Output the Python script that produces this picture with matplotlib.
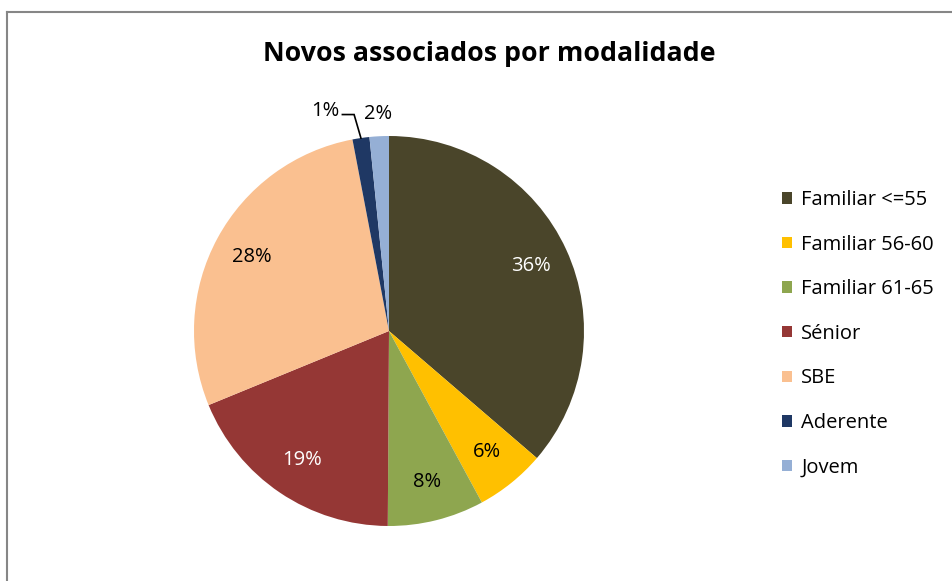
import numpy as np
import matplotlib
matplotlib.use("Agg")
from matplotlib import pyplot as plt
from matplotlib.lines import Line2D
from matplotlib.patches import Patch

plt.rcParams['font.family'] = ['Open Sans', 'DejaVu Sans']

# data (share of new members per category, %)
categories = ['Familiar <=55', 'Familiar 56-60', 'Familiar 61-65', 'Sénior',
              'SBE', 'Aderente', 'Jovem']
values = [36.3, 5.8, 8.0, 18.7, 28.2, 1.4, 1.6]
colors = ['#4A452A', '#FFC000', '#8EA64F', '#953735',
          '#FAC090', '#1F3864', '#95AFD5']
label_colors = ['white', 'black', 'black', 'white', 'black', 'black', 'black']

W, H = 953, 581
fig = plt.figure(figsize=(W / 100, H / 100), dpi=100)

# pie axes: centre (389, 331) px, radius 195 px
cx, cy, r = 389, 331, 195
ax = fig.add_axes([(cx - r) / W, (H - cy - r) / H, 2 * r / W, 2 * r / H])

wedges, texts, autotexts = ax.pie(values, colors=colors, startangle=90,
                                  counterclock=False, autopct='%.0f%%',
                                  pctdistance=0.8,
                                  wedgeprops=dict(linewidth=0),
                                  textprops=dict(fontsize=14.5))
ax.set_xlim(-1, 1)
ax.set_ylim(-1, 1)
ax.set_aspect('equal')

for t, c in zip(autotexts, label_colors):
    t.set_color(c)

# the two small slices get their labels outside the pie
def mid_angle(w):
    return np.deg2rad((w.theta1 + w.theta2) / 2)

# Aderente: label left, with a leader line
a = mid_angle(wedges[5])
ex, ey = np.cos(a), np.sin(a)
ly = 1.11
ax.plot([ex, ex - 0.035, ex - 0.095], [ey, ly, ly], color='black', lw=1.2,
        clip_on=False, solid_joinstyle='miter')
autotexts[5].set_position((ex - 0.11, ly + 0.02))
autotexts[5].set_ha('right')
autotexts[5].set_va('center')

# Jovem: label just above the slice
a = mid_angle(wedges[6])
autotexts[6].set_position((1.115 * np.cos(a), 1.115 * np.sin(a)))
autotexts[6].set_ha('center')
autotexts[6].set_va('center')

fig.text(489 / W, 1 - 54 / H, 'Novos associados por modalidade',
         ha='center', va='center', fontsize=19.3, fontweight='bold')

handles = [Patch(facecolor=c, edgecolor='none') for c in colors]
fig.legend(handles, categories, loc='upper left',
           bbox_to_anchor=(764 / W, 1 - 172 / H), frameon=False,
           fontsize=14.5, handlelength=0.5, handleheight=0.5,
           handletextpad=0.45, labelspacing=1.22)

# chart border (only top and left edges are inside the image)
fig.add_artist(Line2D([7 / W, 7 / W], [0, 1 - 12 / H], color='#868686', lw=1.5))
fig.add_artist(Line2D([7 / W, 1], [1 - 12 / H, 1 - 12 / H], color='#868686', lw=1.5))

fig.savefig('out.png', dpi=100, facecolor='white')
